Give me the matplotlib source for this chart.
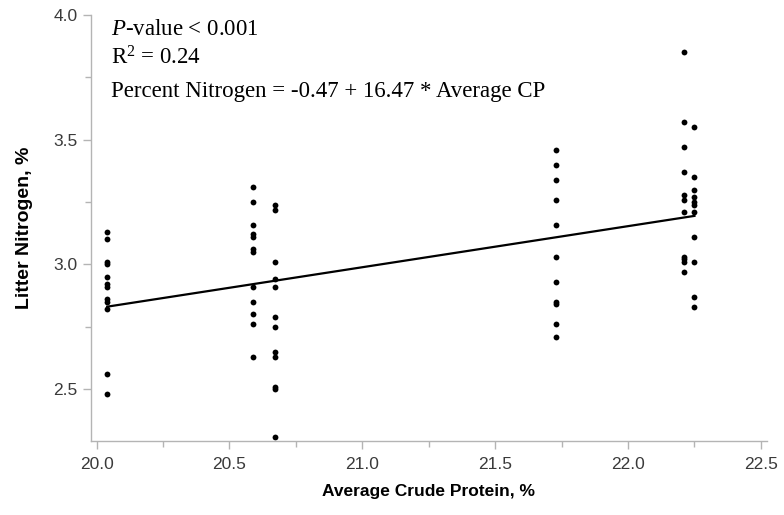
import matplotlib
matplotlib.use('Agg')
import matplotlib.pyplot as plt
import numpy as np
from matplotlib.ticker import MultipleLocator, FormatStrFormatter

# average crude protein (%) for each diet group, and litter N (%)
CP_GROUPS = [20.04, 20.59, 20.67, 21.73, 22.21, 22.25]
N_VALUES = [
    [3.13, 3.10, 3.01, 3.00, 2.95, 2.92, 2.91, 2.86, 2.85, 2.82, 2.56, 2.48],
    [3.31, 3.25, 3.16, 3.12, 3.11, 3.06, 3.05, 2.91, 2.85, 2.80, 2.76, 2.63],
    [3.24, 3.22, 3.01, 2.94, 2.91, 2.79, 2.75, 2.65, 2.63, 2.51, 2.50, 2.31],
    [3.46, 3.40, 3.34, 3.26, 3.16, 3.03, 2.93, 2.85, 2.84, 2.76, 2.71],
    [3.85, 3.57, 3.47, 3.37, 3.28, 3.26, 3.21, 3.03, 3.02, 3.01, 2.97],
    [3.55, 3.35, 3.30, 3.27, 3.25, 3.24, 3.21, 3.11, 3.01, 2.87, 2.83],
]
INTERCEPT = -0.47
SLOPE = 16.47

ANNOT_LINES = [
    r'$\it{P}$-value < 0.001',
    r'R$^{2}$ = 0.24',
    'Percent Nitrogen = -0.47 + 16.47 * Average CP',
]

plt.rcParams['font.family'] = ['Liberation Sans', 'DejaVu Sans']
plt.rcParams['mathtext.fontset'] = 'custom'
plt.rcParams['mathtext.rm'] = 'Liberation Serif'
plt.rcParams['mathtext.it'] = 'Liberation Serif:italic'

fig = plt.figure(figsize=(7.84, 5.15), dpi=100)
ax = fig.add_axes([91 / 784, 1 - 441 / 515, (767 - 91) / 784, (441 - 15) / 515])

xs = np.concatenate([[cp] * len(v) for cp, v in zip(CP_GROUPS, N_VALUES)])
ys = np.concatenate(N_VALUES)
ax.plot(xs, ys, 'o', color='black', ms=4.2, mew=0)

xfit = np.array([min(CP_GROUPS), max(CP_GROUPS)])
ax.plot(xfit, INTERCEPT + SLOPE * xfit / 100, color='black', lw=1.6)

ax.set_xlim(19.979, 22.523)
ax.set_ylim(2.292, 4.0)
ax.xaxis.set_major_locator(MultipleLocator(0.5))
ax.xaxis.set_minor_locator(MultipleLocator(0.25))
ax.yaxis.set_major_locator(MultipleLocator(0.5))
ax.yaxis.set_minor_locator(MultipleLocator(0.25))
ax.xaxis.set_major_formatter(FormatStrFormatter('%.1f'))
ax.yaxis.set_major_formatter(FormatStrFormatter('%.1f'))

for side in ['top', 'right']:
    ax.spines[side].set_visible(False)
for side in ['left', 'bottom']:
    ax.spines[side].set_color('#b4b4b4')
    ax.spines[side].set_linewidth(1.0)
ax.tick_params(which='both', color='#b4b4b4', labelcolor='#3a3a3a', labelsize=12.5)
ax.tick_params(which='major', length=5.5, width=1.0)
ax.tick_params(which='minor', length=4, width=1.0)
ax.tick_params(axis='x', which='major', pad=6)
ax.tick_params(axis='y', which='major', pad=4)

ax.set_xlabel('Average Crude Protein, %', fontsize=12.5, fontweight='bold', labelpad=9)
ax.set_ylabel('Litter Nitrogen, %', fontsize=14, fontweight='bold', labelpad=15)

for txt, yb in zip(ANNOT_LINES, [35, 65, 97]):
    fig.text(111 / 784, 1 - yb / 515, txt, fontsize=16.5, family='Liberation Serif',
             va='baseline', ha='left')

fig.savefig('out.png', dpi=100)
